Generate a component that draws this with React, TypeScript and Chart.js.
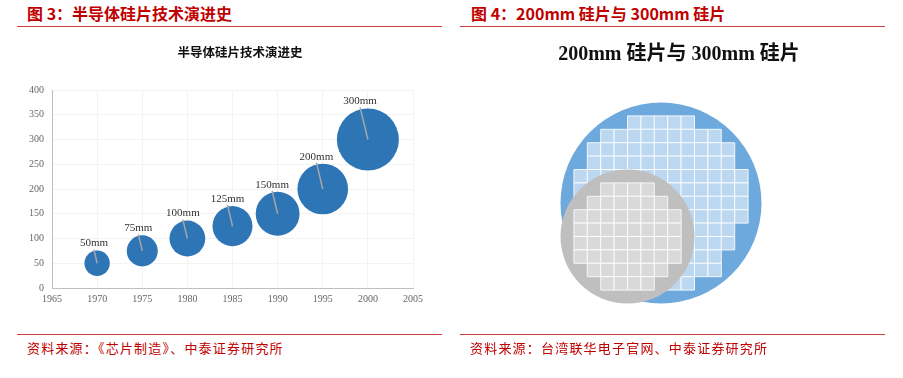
import React, { useEffect, useRef } from "react";
import { Chart, registerables } from "chart.js";

Chart.register(...registerables);

// ---------- Left chart data ----------
const YEARS = [1970, 1975, 1980, 1985, 1990, 1995, 2000];
const DIAMETERS = [50, 75, 100, 125, 150, 200, 300];
const BUBBLE_LABELS = ["50mm", "75mm", "100mm", "125mm", "150mm", "200mm", "300mm"];
const X_MIN = 1965;
const X_MAX = 2005;
const X_STEP = 5;
const Y_MIN = 0;
const Y_MAX = 400;
const Y_STEP = 50;

// ---------- Right illustration data ----------
const WAFER_DIAMETERS = [300, 200];
const WAFER_CENTER_X = [0, -50];
const WAFER_CENTER_Y = [0, -50];
const DIE_SIZE = 20;
const ROWS_300 = [5, 9, 11, 11, 13, 13, 13, 13, 11, 11, 9, 9, 5];
const ROWS_200 = [4, 6, 8, 8, 8, 8, 6, 4];

const RED = "#C00000";
const SERIF = '"Liberation Serif", "Times New Roman", serif';
const CJK = '"Noto Sans CJK SC", sans-serif';

const bubbleRadius = (d: number) => 1.79 * Math.sqrt(d);

function dieCells(rows: number[], cx: number, cy: number) {
  const pts: { x: number; y: number }[] = [];
  const top = cy + (rows.length * DIE_SIZE) / 2;
  rows.forEach((w, i) => {
    const y = top - DIE_SIZE * (i + 0.5);
    for (let j = 0; j < w; j++) {
      pts.push({ x: cx + (j - (w - 1) / 2) * DIE_SIZE, y });
    }
  });
  return pts;
}

const mmToPx = (chart: any, mm: number) =>
  Math.abs(chart.scales.x.getPixelForValue(mm) - chart.scales.x.getPixelForValue(0));

const bubbleLabelPlugin = {
  id: "bubbleLabels",
  afterDatasetsDraw(chart: any) {
    const meta = chart.getDatasetMeta(0);
    const ctx = chart.ctx;
    ctx.save();
    meta.data.forEach((el: any, i: number) => {
      const r = el.options.radius;
      const cx = el.x;
      const cy = el.y;
      const lx = cx - 0.25 * r;
      const ly = cy - r - 7;
      ctx.strokeStyle = "#a6a6a6";
      ctx.lineWidth = 1.5;
      ctx.beginPath();
      ctx.moveTo(lx, ly + 6);
      ctx.lineTo(cx, cy);
      ctx.stroke();
      ctx.fillStyle = "#333333";
      ctx.font = `11px ${SERIF}`;
      ctx.textAlign = "center";
      ctx.textBaseline = "middle";
      ctx.fillText(BUBBLE_LABELS[i], lx, ly);
    });
    ctx.restore();
  },
};

function LeftChart() {
  const ref = useRef<HTMLCanvasElement>(null);
  useEffect(() => {
    const tickFont = { family: SERIF, size: 10 };
    const chart = new Chart(ref.current as HTMLCanvasElement, {
      type: "bubble",
      data: {
        datasets: [
          {
            data: YEARS.map((x, i) => ({ x, y: DIAMETERS[i], r: bubbleRadius(DIAMETERS[i]) })),
            backgroundColor: "#2E75B6",
            borderWidth: 0,
          },
        ],
      },
      options: {
        responsive: false,
        animation: false,
        events: [],
        layout: { padding: { left: 0, right: 0, top: 0, bottom: 0 } },
        plugins: {
          legend: { display: false },
          tooltip: { enabled: false },
          title: {
            display: true,
            text: "半导体硅片技术演进史",
            color: "#111111",
            font: { family: CJK, size: 12.5, weight: "bold" },
            padding: { top: 15, bottom: 30 },
          },
        },
        scales: {
          x: {
            type: "linear",
            min: X_MIN,
            max: X_MAX,
            ticks: { stepSize: X_STEP, font: tickFont, color: "#666666", padding: 5, callback: (v: any) => `${v}` },
            grid: { color: "#f3f3f3", drawTicks: false },
            border: { color: "#bfbfbf", width: 1 },
            afterFit: (s: any) => {
              s.height = 32;
            },
          },
          y: {
            type: "linear",
            min: Y_MIN,
            max: Y_MAX,
            ticks: { stepSize: Y_STEP, font: tickFont, color: "#666666", padding: 8, callback: (v: any) => `${v}` },
            grid: { color: "#f3f3f3", drawTicks: false },
            border: { color: "#bfbfbf", width: 1 },
            afterFit: (s: any) => {
              s.width = 35;
            },
          },
          // blank right-side spacer so the title centres like the original
          spacer: {
            type: "linear",
            position: "right",
            display: true,
            ticks: { display: false },
            grid: { display: false, drawTicks: false },
            border: { display: false },
            afterFit: (s: any) => {
              s.width = 50;
            },
          },
        },
      } as any,
      plugins: [bubbleLabelPlugin],
    });
    return () => chart.destroy();
  }, []);
  return <canvas ref={ref} width={446} height={290} style={{ position: "absolute", left: 17, top: 30 }} />;
}

function RightChart() {
  const ref = useRef<HTMLCanvasElement>(null);
  useEffect(() => {
    const chart = new Chart(ref.current as HTMLCanvasElement, {
      type: "scatter",
      data: {
        datasets: [
          {
            data: [{ x: WAFER_CENTER_X[0], y: WAFER_CENTER_Y[0] }],
            pointRadius: (c: any) => mmToPx(c.chart, WAFER_DIAMETERS[0] / 2),
            backgroundColor: "#6EA9DD",
            borderWidth: 0,
            order: 4,
          },
          {
            data: dieCells(ROWS_300, WAFER_CENTER_X[0], WAFER_CENTER_Y[0]),
            pointStyle: "rect",
            pointRadius: (c: any) => mmToPx(c.chart, DIE_SIZE) / Math.SQRT2,
            backgroundColor: "#BCD8F1",
            borderColor: "rgba(255,255,255,0.85)",
            borderWidth: 1,
            order: 3,
          },
          {
            data: [{ x: WAFER_CENTER_X[1], y: WAFER_CENTER_Y[1] }],
            pointRadius: (c: any) => mmToPx(c.chart, WAFER_DIAMETERS[1] / 2),
            backgroundColor: "#BFBFBF",
            borderWidth: 0,
            order: 2,
          },
          {
            data: dieCells(ROWS_200, WAFER_CENTER_X[1], WAFER_CENTER_Y[1]),
            pointStyle: "rect",
            pointRadius: (c: any) => mmToPx(c.chart, DIE_SIZE) / Math.SQRT2,
            backgroundColor: "#D9D9D9",
            borderColor: "rgba(255,255,255,0.85)",
            borderWidth: 1,
            order: 1,
          },
        ],
      },
      options: {
        responsive: false,
        animation: false,
        events: [],
        layout: { padding: { left: 13, right: 0, top: 0, bottom: 0 } },
        plugins: {
          legend: { display: false },
          tooltip: { enabled: false },
          title: {
            display: true,
            text: "200mm 硅片与 300mm 硅片",
            color: "#111111",
            font: { family: `"Liberation Serif", "Noto Sans CJK SC", serif`, size: 20, weight: "bold" },
            padding: { top: 13, bottom: 28 },
          },
        },
        scales: {
          x: { type: "linear", display: false, min: -280.6, max: 334.3 },
          y: { type: "linear", display: false, min: -174.6, max: 161.2 },
        },
      } as any,
    });
    return () => chart.destroy();
  }, []);
  return <canvas ref={ref} width={425} height={290} style={{ position: "absolute", left: 460, top: 30 }} />;
}

const headerStyle: React.CSSProperties = {
  position: "absolute",
  top: 3,
  fontFamily: CJK,
  fontWeight: 700,
  fontSize: 16,
  lineHeight: "20px",
  color: RED,
  whiteSpace: "nowrap",
};

const sourceStyle: React.CSSProperties = {
  position: "absolute",
  top: 339,
  fontFamily: CJK,
  fontSize: 13,
  letterSpacing: 1.2,
  lineHeight: "18px",
  color: RED,
  whiteSpace: "nowrap",
};

const rule = (left: number, top: number, width: number): React.CSSProperties => ({
  position: "absolute",
  left,
  top,
  width,
  height: 1,
  background: "#C8403F",
});

export default function App() {
  return (
    <div style={{ position: "absolute", left: 0, top: 0, width: 903, height: 378, background: "#ffffff", overflow: "hidden" }}>
      <div style={{ ...headerStyle, left: 27 }}>图 3：半导体硅片技术演进史</div>
      <div style={{ ...headerStyle, left: 471 }}>图 4：200mm 硅片与 300mm 硅片</div>
      <div style={rule(17, 26, 425)} />
      <div style={rule(460, 26, 425)} />
      <LeftChart />
      <RightChart />
      <div style={rule(17, 334, 425)} />
      <div style={rule(460, 334, 425)} />
      <div style={{ ...sourceStyle, left: 27 }}>资料来源：《芯片制造》、中泰证券研究所</div>
      <div style={{ ...sourceStyle, left: 470 }}>资料来源：台湾联华电子官网、中泰证券研究所</div>
    </div>
  );
}
